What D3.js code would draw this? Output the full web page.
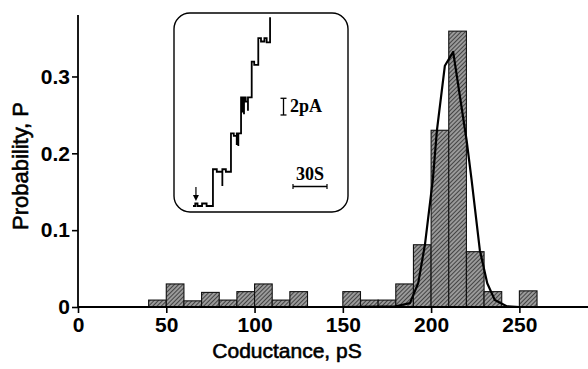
<!DOCTYPE html>
<html>
<head>
<meta charset="utf-8">
<script src="https://cdn.jsdelivr.net/npm/d3@7"></script>
<style>
  html, body { margin: 0; padding: 0; background: #fff; }
  svg { display: block; }
</style>
</head>
<body>
<div id="graph"></div>
<script>
// histogram bins (lower edge, pS) and probabilities
const binStart = [40, 50, 60, 70, 80, 90, 100, 110, 120, 150, 160, 170, 180, 190, 200, 210, 220, 230, 250];
const binProb = [0.009, 0.03, 0.008, 0.019, 0.009, 0.02, 0.03, 0.009, 0.02, 0.02, 0.009, 0.009, 0.03, 0.081, 0.23, 0.359, 0.072, 0.02, 0.021];
const binWidth = 10;

// fitted curve
const curveX = [150, 180, 188, 192.7, 196.5, 201, 203.3, 207.8, 212.5, 220.1, 222.9, 227.6, 231.8, 236.1, 242.8, 250];
const curveP = [0, 0.001, 0.005, 0.031, 0.081, 0.166, 0.23, 0.314, 0.332, 0.217, 0.166, 0.074, 0.031, 0.009, 0.001, 0];

const xTicks = [0, 50, 100, 150, 200, 250];
const yTicks = [0, 0.1, 0.2, 0.3];

// inset current trace: time (s) and current (pA)
const traceT = [0, 2, 2, 4, 4, 8, 8, 12, 12, 17.6, 17.6, 21, 21, 25.9, 25.9, 25.9, 29, 29, 33.5, 33.5, 36, 36, 38.6, 38.6, 38.6, 40, 40, 40, 42.4, 42.4, 43.5, 43.5, 43.5, 45, 45, 45, 46.5, 46.5, 48.5, 48.5, 48.5, 51.8, 51.8, 54, 54, 57.6, 57.6, 60, 60, 63, 63, 65, 65, 68, 68];
const traceI = [0, 0, 0.3, 0.3, 0, 0, 0.3, 0.3, 0, 0, 4.4, 4.4, 4.1, 4.1, 2.4, 4.4, 4.4, 4.1, 4.1, 8.7, 8.7, 8.4, 8.4, 7.3, 8.7, 8.7, 7.2, 8.7, 8.7, 13.0, 13.0, 11.2, 13.0, 13.0, 11.0, 13.0, 13.0, 12.5, 12.5, 11.4, 13.0, 13.0, 17.3, 17.3, 16.9, 16.9, 20.1, 20.1, 19.7, 19.7, 20.1, 20.1, 19.6, 19.6, 22.6];

const W = 588, H = 369;

const svg = d3.select('#graph')
  .append('svg')
  .attr('width', W)
  .attr('height', H);

// hatch pattern for bars
const defs = svg.append('defs');
const pat = defs.append('pattern')
  .attr('id', 'hatch')
  .attr('patternUnits', 'userSpaceOnUse')
  .attr('width', 3)
  .attr('height', 3)
  .attr('patternTransform', 'rotate(45)');
pat.append('rect').attr('width', 3).attr('height', 3).attr('fill', '#9a9a9a');
pat.append('line').attr('x1', 0).attr('y1', 0).attr('x2', 0).attr('y2', 3)
  .attr('stroke', '#2e2e2e').attr('stroke-width', 1.6);

const xScale = d3.scaleLinear().domain([0, 290]).range([78, 590]);
const yScale = d3.scaleLinear().domain([0, 0.38]).range([307, 15]);

// bars
svg.append('g')
  .selectAll('rect')
  .data(binStart.map((s, i) => ({ s, p: binProb[i] })))
  .join('rect')
  .attr('x', d => xScale(d.s))
  .attr('y', d => yScale(d.p))
  .attr('width', d => xScale(d.s + binWidth) - xScale(d.s))
  .attr('height', d => yScale(0) - yScale(d.p))
  .attr('fill', 'url(#hatch)')
  .attr('stroke', '#111')
  .attr('stroke-width', 1.1);

// fitted curve
svg.append('path')
  .datum(curveX.map((x, i) => [x, curveP[i]]))
  .attr('fill', 'none')
  .attr('stroke', '#000')
  .attr('stroke-width', 2.2)
  .attr('stroke-linejoin', 'round')
  .attr('d', d3.line()
    .x(d => xScale(d[0]))
    .y(d => yScale(d[1])));

// axes
const xAxis = svg.append('g')
  .attr('transform', `translate(0, ${yScale(0)})`)
  .call(d3.axisBottom(xScale).tickValues(xTicks).tickSize(6).tickPadding(4).tickFormat(d3.format('d')));

const yAxis = svg.append('g')
  .attr('transform', `translate(${xScale(0)}, 0)`)
  .call(d3.axisLeft(yScale).tickValues(yTicks).tickSize(6).tickPadding(2)
    .tickFormat(d => d === 0 ? '0' : d3.format('.1f')(d)));

[xAxis, yAxis].forEach(a => {
  a.select('.domain').attr('stroke', '#000').attr('stroke-width', 1.8);
  a.selectAll('.tick line').attr('stroke', '#000').attr('stroke-width', 1.6);
  a.selectAll('.tick text')
    .attr('fill', '#000')
    .style('font-family', '"Liberation Sans", Arial, sans-serif')
    .style('font-size', '21px')
    .style('font-weight', 'bold');
});
yAxis.select('.domain').attr('d', `M0,${yScale(0)}V${yScale(0.38)}`);
xAxis.select('.domain').attr('d', `M${xScale(0)},0H${W}`);

// axis titles
svg.append('text')
  .attr('x', 287)
  .attr('y', 358)
  .attr('text-anchor', 'middle')
  .style('font-family', '"Liberation Sans", Arial, sans-serif')
  .style('font-size', '21px')
  .attr('stroke', '#000')
  .attr('stroke-width', 0.6)
  .text('Coductance, pS');

svg.append('text')
  .attr('transform', 'translate(28, 166) rotate(-90)')
  .attr('text-anchor', 'middle')
  .style('font-family', '"Liberation Sans", Arial, sans-serif')
  .style('font-size', '22px')
  .attr('stroke', '#000')
  .attr('stroke-width', 0.6)
  .text('Probability, P');

// inset
const inset = svg.append('g');
inset.append('rect')
  .attr('x', 174).attr('y', 13)
  .attr('width', 174).attr('height', 199)
  .attr('rx', 16).attr('ry', 16)
  .attr('fill', 'none')
  .attr('stroke', '#000')
  .attr('stroke-width', 1.4);

const tScale = d3.scaleLinear().domain([0, 30]).range([193, 227]);
const iScale = d3.scaleLinear().domain([0, 2]).range([206, 189.3]);

inset.append('path')
  .datum(traceT.map((t, i) => [t, traceI[i]]))
  .attr('fill', 'none')
  .attr('stroke', '#000')
  .attr('stroke-width', 1.8)
  .attr('d', d3.line()
    .x(d => tScale(d[0]))
    .y(d => iScale(d[1])));

// arrow marking start
inset.append('line')
  .attr('x1', tScale(2.6)).attr('x2', tScale(2.6))
  .attr('y1', 187).attr('y2', 199)
  .attr('stroke', '#000').attr('stroke-width', 1.2);
inset.append('path')
  .attr('d', `M${tScale(2.6) - 3},195L${tScale(2.6)},201L${tScale(2.6) + 3},195Z`)
  .attr('fill', '#000');

// scale bars
const sbX = 283.5, sbY = iScale(12.9);
inset.append('line')
  .attr('x1', sbX).attr('x2', sbX)
  .attr('y1', sbY).attr('y2', sbY + (iScale(0) - iScale(2)))
  .attr('stroke', '#000').attr('stroke-width', 1.3);
[sbY, sbY + (iScale(0) - iScale(2))].forEach(y => {
  inset.append('line')
    .attr('x1', sbX - 3).attr('x2', sbX + 3)
    .attr('y1', y).attr('y2', y)
    .attr('stroke', '#000').attr('stroke-width', 1.3);
});
inset.append('text')
  .attr('x', 290).attr('y', 112)
  .style('font-family', '"Liberation Serif", "Times New Roman", serif')
  .style('font-size', '18px')
  .style('font-weight', 'bold')
  .text('2pA');

const hbX = 293, hbY = 186.5;
inset.append('line')
  .attr('x1', hbX).attr('x2', hbX + (tScale(30) - tScale(0)))
  .attr('y1', hbY).attr('y2', hbY)
  .attr('stroke', '#000').attr('stroke-width', 1.3);
[hbX, hbX + (tScale(30) - tScale(0))].forEach(x => {
  inset.append('line')
    .attr('x1', x).attr('x2', x)
    .attr('y1', hbY - 2.5).attr('y2', hbY + 2.5)
    .attr('stroke', '#000').attr('stroke-width', 1.2);
});
inset.append('text')
  .attr('x', 310).attr('y', 180)
  .attr('text-anchor', 'middle')
  .style('font-family', '"Liberation Serif", "Times New Roman", serif')
  .style('font-size', '18px')
  .style('font-weight', 'bold')
  .text('30S');
</script>
</body>
</html>
